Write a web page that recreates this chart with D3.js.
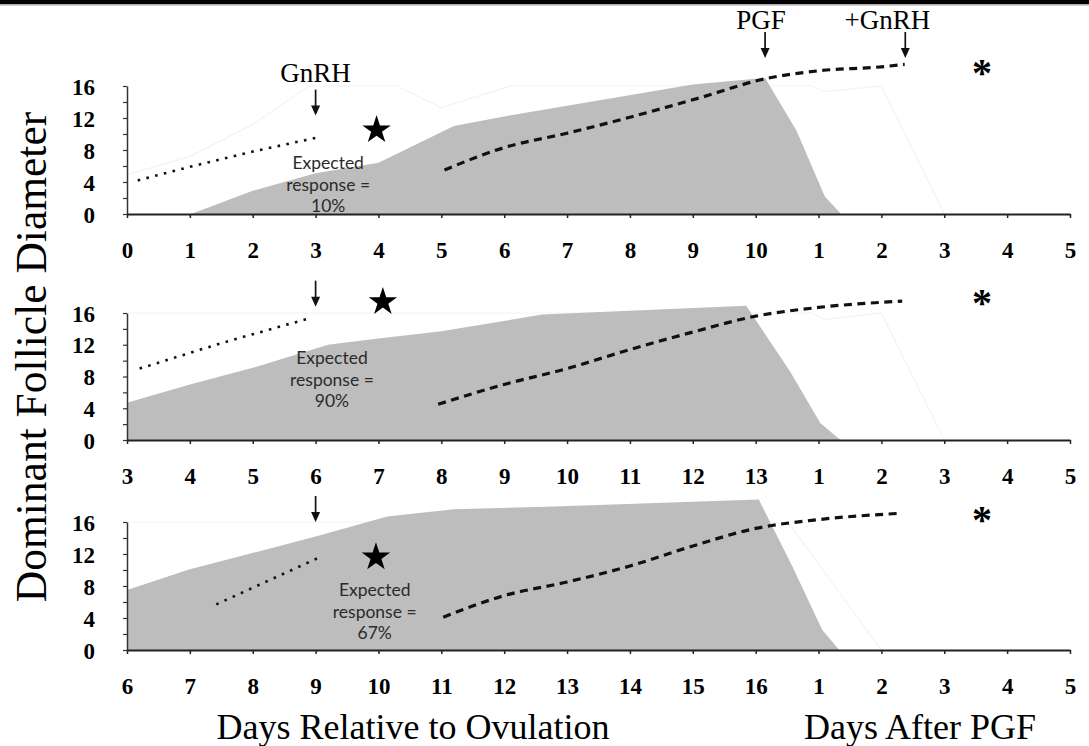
<!DOCTYPE html>
<html>
<head>
<meta charset="utf-8">
<script src="https://cdn.jsdelivr.net/npm/d3@7"></script>
<style>
  body { margin: 0; background: #fff; }
  svg { display: block; }
</style>
</head>
<body>
<div id="chart"></div>
<script>
// tick labels for each panel (axis positions 0..15)
const ticksTop = ['0','1','2','3','4','5','6','7','8','9','10','1','2','3','4','5'];
const ticksMid = ['3','4','5','6','7','8','9','10','11','12','13','1','2','3','4','5'];
const ticksLow = ['6','7','8','9','10','11','12','13','14','15','16','1','2','3','4','5'];

// [axis position, mm] — grey area
const areaTop = [[1.02,0],[2,2.9],[3,5.1],[4,6.4],[5.2,11],[6,12.2],[9,16.2],[10.15,17],[10.65,10.4],[11.1,2.2],[11.36,0]];
const areaMid = [[0,4.7],[1,7.0],[2,9.1],[3.2,12.0],[4,12.8],[5,13.7],[6.6,15.8],[9.85,16.9],[10.55,8.6],[11.03,2.1],[11.35,0]];
const areaLow = [[0,7.5],[1,10.1],[1.6,11.3],[3,14.2],[4.14,16.7],[5.2,17.6],[6.67,17.9],[10.05,18.8],[10.58,10.5],[11.06,2.5],[11.33,0]];

// first wave follicle (dotted)
const dottedTop = [[0.17,4.2],[1,5.9],[2,7.8],[3.05,9.6]];
const dottedMid = [[0.2,9.0],[1.5,12.2],[2.93,15.4]];
const dottedLow = [[1.42,5.7],[3.04,11.5]];

// second wave follicle (dashed)
const dashedTop = [[5.05,5.5],[6,8.3],[7,10.1],[8,12.1],[9.1,14.5],[10.15,16.9],[11,17.9],[12,18.4],[12.37,18.7]];
const dashedMid = [[4.95,4.5],[6,7.0],[7,9.0],[8,11.4],[9,13.6],[10,15.6],[11,16.7],[12.33,17.5]];
const dashedLow = [[5.03,4.1],[6,6.8],[7,8.5],[8,10.5],[9,13],[10,15.2],[11,16.3],[12.33,17.1]];

// very faint outline series
const faintTop = [[0,4.9],[1,7.2],[2,11.2],[2.9,16],[4.3,16],[5,13.3],[6.1,16],[10.9,16],[11.1,15.3],[12,16],[13,0]];
const faintMid = [[0,16],[10.9,16],[11.1,15.2],[12,16],[13,0]];
const faintLow = [[0,16],[10.3,16],[10.56,15.5],[12,0]];

// annotations
const gnrhTips = [[3,12.3],[3,16.8],[3,16]];
const pgfTip = [10.15,19.5];
const plusGnrhTip = [12.38,19.5];
const stars = [[3.97,10.5],[4.07,17.4],[3.96,11.6]];
const notes = [[3.2,6.5],[3.26,10.45],[3.94,7.6]];
const responses = ['10%','90%','67%'];
const asterisks = [[13.6,18.5],[13.6,18.1],[13.6,17.1]];

const width = 1089, height = 746;
const serif = '"Liberation Serif","Times New Roman",serif';

const svg = d3.select('#chart').append('svg')
  .attr('width', width).attr('height', height);

svg.append('rect').attr('width', width).attr('height', 4).attr('fill', '#000');
svg.append('line').attr('x1',0).attr('x2',width).attr('y1',4.8).attr('y2',4.8)
  .attr('stroke','#999').attr('stroke-width',1.2);

const x = d3.scaleLinear().domain([0, 15]).range([127, 1070]);

const panels = [
  { ticks: ticksTop, area: areaTop, dotted: dottedTop, dashed: dashedTop, faint: faintTop, base: 214, top: 86 },
  { ticks: ticksMid, area: areaMid, dotted: dottedMid, dashed: dashedMid, faint: faintMid, base: 440, top: 313 },
  { ticks: ticksLow, area: areaLow, dotted: dottedLow, dashed: dashedLow, faint: faintLow, base: 650, top: 522 }
];

function arrow(g, px, py) {
  g.append('line').attr('x1', px).attr('x2', px).attr('y1', py - 26).attr('y2', py - 7)
    .attr('stroke', '#111').attr('stroke-width', 1.7);
  g.append('path').attr('d', `M${px-4.5},${py-10}L${px+4.5},${py-10}L${px},${py}Z`).attr('fill', '#111');
}

panels.forEach((p, k) => {
  const y = d3.scaleLinear().domain([0, 16]).range([p.base, p.top]);
  const g = svg.append('g');

  const line = d3.line().x(d => x(d[0])).y(d => y(d[1]));
  const smooth = d3.line().x(d => x(d[0])).y(d => y(d[1])).curve(d3.curveMonotoneX);
  const area = d3.area().x(d => x(d[0])).y0(y(0)).y1(d => y(d[1]));

  g.append('path').datum(p.faint).attr('d', line)
    .attr('fill', 'none').attr('stroke', '#f3f3f3').attr('stroke-width', 1.2);

  g.append('path').datum(p.area).attr('d', area).attr('fill', '#bdbdbd');

  g.append('path').datum(p.dotted).attr('d', line)
    .attr('fill', 'none').attr('stroke', '#111').attr('stroke-width', 2.6)
    .attr('stroke-dasharray', '2.6,6.4');

  g.append('path').datum(p.dashed).attr('d', smooth)
    .attr('fill', 'none').attr('stroke', '#111').attr('stroke-width', 3.2)
    .attr('stroke-dasharray', '8,5.5');

  /* Bottom axis */
  g.append('g')
    .attr('transform', `translate(0,${p.base})`)
    .call(d3.axisBottom(x).tickValues(d3.range(16)).tickFormat(i => p.ticks[i]).tickSize(4).tickSizeOuter(0))
    .call(ax => {
      ax.select('.domain').attr('stroke', '#222').attr('stroke-width', 2);
      ax.selectAll('.tick line').attr('stroke', '#222').attr('stroke-width', 1.5);
      ax.selectAll('text').attr('y', 36).attr('dy', '0.35em')
        .style('font-family', serif).style('font-size', '23px').style('font-weight', 'bold').style('fill', '#000');
    });

  /* Left axis */
  g.append('g')
    .attr('transform', `translate(${x(0)},0)`)
    .call(d3.axisLeft(y).tickValues(d3.range(0, 17, 2)).tickFormat(d => d % 4 === 0 ? d : '').tickSize(4).tickSizeOuter(0))
    .call(ax => {
      ax.select('.domain').attr('stroke', '#333').attr('stroke-width', 1.5);
      ax.selectAll('.tick line').attr('stroke', '#333').attr('stroke-width', 1.2);
      ax.selectAll('text').attr('x', -32).attr('dy', '0.35em')
        .style('font-family', serif).style('font-size', '23px').style('font-weight', 'bold').style('fill', '#000');
    });

  /* GnRH arrow */
  arrow(g, x(gnrhTips[k][0]), y(gnrhTips[k][1]));

  /* Star */
  g.append('path')
    .attr('d', d3.symbol(d3.symbolStar, 250)())
    .attr('transform', `translate(${x(stars[k][0])},${y(stars[k][1])})`)
    .attr('fill', '#000');

  /* Expected response note */
  const t = g.append('text')
    .attr('x', x(notes[k][0])).attr('y', y(notes[k][1]))
    .attr('text-anchor', 'middle').attr('dominant-baseline', 'central')
    .style('font-family', 'Lato, "Open Sans", sans-serif').style('font-size', '17.5px').style('fill', '#2b2b2b');
  ['Expected', 'response =', responses[k]].forEach((s, i) => {
    t.append('tspan').attr('x', x(notes[k][0])).attr('dy', i === 0 ? 0 : 21.5).text(s);
  });

  /* Asterisk */
  g.append('text')
    .attr('x', x(asterisks[k][0])).attr('y', y(asterisks[k][1]) + 20)
    .attr('text-anchor', 'middle')
    .style('font-family', serif).style('font-size', '40px').style('font-weight', 'bold')
    .text('*');

  if (k === 0) {
    const gx = x(gnrhTips[0][0]), gy = y(gnrhTips[0][1]);
    g.append('text').attr('x', gx).attr('y', gy - 34)
      .attr('text-anchor', 'middle').style('font-family', serif).style('font-size', '27px')
      .text('GnRH');
    const px = x(pgfTip[0]), py = y(pgfTip[1]);
    arrow(g, px, py);
    g.append('text').attr('x', px - 4).attr('y', py - 29)
      .attr('text-anchor', 'middle').style('font-family', serif).style('font-size', '27px')
      .text('PGF');
    const qx = x(plusGnrhTip[0]), qy = y(plusGnrhTip[1]);
    arrow(g, qx, qy);
    g.append('text').attr('x', qx - 18).attr('y', qy - 29)
      .attr('text-anchor', 'middle').style('font-family', serif).style('font-size', '27px')
      .text('+GnRH');
  }
});

/* Axis titles */
svg.append('text')
  .attr('transform', 'translate(46,357) rotate(-90)')
  .attr('text-anchor', 'middle')
  .style('font-family', serif).style('font-size', '43.5px')
  .text('Dominant Follicle Diameter');

svg.append('text')
  .attr('x', 413).attr('y', 739).attr('text-anchor', 'middle')
  .style('font-family', serif).style('font-size', '36px')
  .text('Days Relative to Ovulation');

svg.append('text')
  .attr('x', 920).attr('y', 739).attr('text-anchor', 'middle')
  .style('font-family', serif).style('font-size', '36px')
  .text('Days After PGF');
</script>
</body>
</html>
